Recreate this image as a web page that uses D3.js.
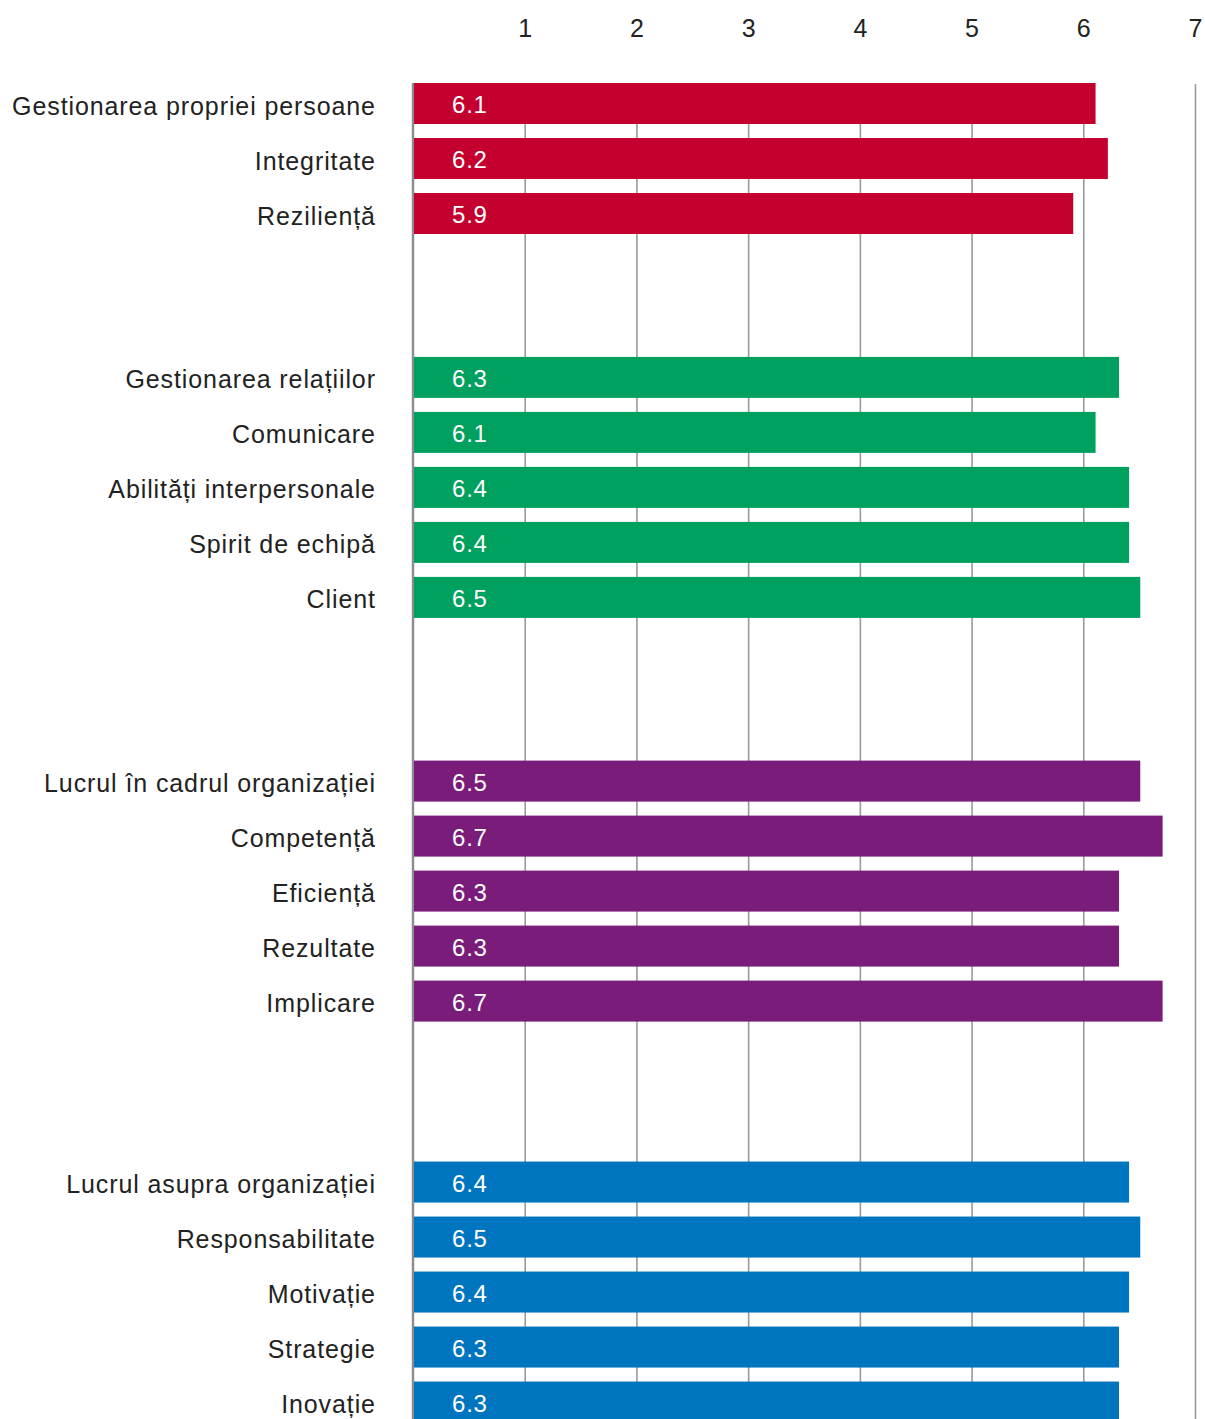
<!DOCTYPE html>
<html>
<head>
<meta charset="utf-8">
<script src="https://cdn.jsdelivr.net/npm/d3@7"></script>
<style>
  body { margin: 0; background: #fff; }
  svg { display: block; font-family: "Liberation Sans", Arial, Helvetica, sans-serif; }
</style>
</head>
<body>
<div id="chart"></div>
<script>
/* DATA */
const groupNames = ["Gestionarea propriei persoane", "Gestionarea relațiilor", "Lucrul în cadrul organizației", "Lucrul asupra organizației"];

const categories = [
  ["Gestionarea propriei persoane", "Integritate", "Reziliență"],
  ["Gestionarea relațiilor", "Comunicare", "Abilități interpersonale", "Spirit de echipă", "Client"],
  ["Lucrul în cadrul organizației", "Competență", "Eficiență", "Rezultate", "Implicare"],
  ["Lucrul asupra organizației", "Responsabilitate", "Motivație", "Strategie", "Inovație"]
];

// labels show one decimal
const values = [
  [6.11, 6.22, 5.91],
  [6.32, 6.11, 6.41, 6.41, 6.51],
  [6.51, 6.71, 6.32, 6.32, 6.71],
  [6.41, 6.51, 6.41, 6.32, 6.32]
];

const tickValues = [1, 2, 3, 4, 5, 6, 7];

/* LAYOUT */
const width = 1205,
  height = 1419,
  margin = { top: 83, left: 413, right: 10 },
  step = 55,         // distance between two bars
  barHeight = 41,
  groupGap = [0, 1.98, 2.34, 2.29]; // empty rows before each group
const groupColors = ["#c4002f", "#00a05f", "#7a1c7a", "#0075bf"];

// flatten into rows with a slot number
let rows = [];
let slot = 0;
categories.forEach((cats, g) => {
  slot += groupGap[g];
  cats.forEach((c, i) => {
    rows.push({ group: g, label: c, value: values[g][i], slot: slot });
    slot += 1;
  });
});

/* SCALES */
const xScale = d3.scaleLinear()
  .domain([0, 7])
  .range([margin.left, 1195]);

const yScale = d3.scaleLinear()
  .domain([0, 1])
  .range([margin.top, margin.top + step]);

const colorScale = d3.scaleOrdinal()
  .domain(d3.range(groupNames.length))
  .range(groupColors);

/* SVG */
const svg = d3.select("#chart")
  .append("svg")
  .attr("width", width)
  .attr("height", height);

// gridlines + top labels through an axis
const xAxis = d3.axisTop(xScale)
  .tickValues(tickValues)
  .tickSize(-(height - margin.top + 1))
  .tickPadding(0)
  .tickFormat(d3.format("d"));

const xAxisGroup = svg.append("g")
  .attr("class", "xAxis")
  .attr("transform", `translate(0, ${margin.top + 1})`)
  .call(xAxis);

xAxisGroup.select(".domain").remove();
xAxisGroup.selectAll(".tick line")
  .attr("stroke", "#9a9a9a")
  .attr("stroke-width", 1.6);
xAxisGroup.selectAll(".tick text")
  .attr("y", 37 - margin.top - 1)
  .attr("dy", 0)
  .attr("fill", "#222")
  .attr("font-size", 25)
  .attr("font-family", "Liberation Sans, Arial, sans-serif");

// left axis line
svg.append("line")
  .attr("x1", xScale(0)).attr("x2", xScale(0))
  .attr("y1", margin.top).attr("y2", height)
  .attr("stroke", "#8c8c8c")
  .attr("stroke-width", 2.4);

// bars
svg.selectAll("rect.bar")
  .data(rows)
  .join("rect")
  .attr("class", "bar")
  .attr("x", xScale(0) + 1)
  .attr("y", d => yScale(d.slot))
  .attr("width", d => xScale(d.value) - xScale(0) - 1)
  .attr("height", barHeight)
  .attr("fill", d => colorScale(d.group));

// value labels
svg.selectAll("text.value")
  .data(rows)
  .join("text")
  .attr("class", "value")
  .attr("x", 452)
  .attr("y", d => yScale(d.slot) + barHeight / 2 + 9.5)
  .attr("fill", "#fff")
  .attr("font-size", 24)
  .attr("letter-spacing", 0.8)
  .text(d => d3.format(".1f")(d.value));

// category labels
svg.selectAll("text.cat")
  .data(rows)
  .join("text")
  .attr("class", "cat")
  .attr("x", 375.9)
  .attr("y", d => yScale(d.slot) + barHeight / 2 + 11)
  .attr("text-anchor", "end")
  .attr("fill", "#222")
  .attr("font-size", 25)
  .attr("letter-spacing", 0.9)
  .text(d => d.label);
</script>
</body>
</html>
